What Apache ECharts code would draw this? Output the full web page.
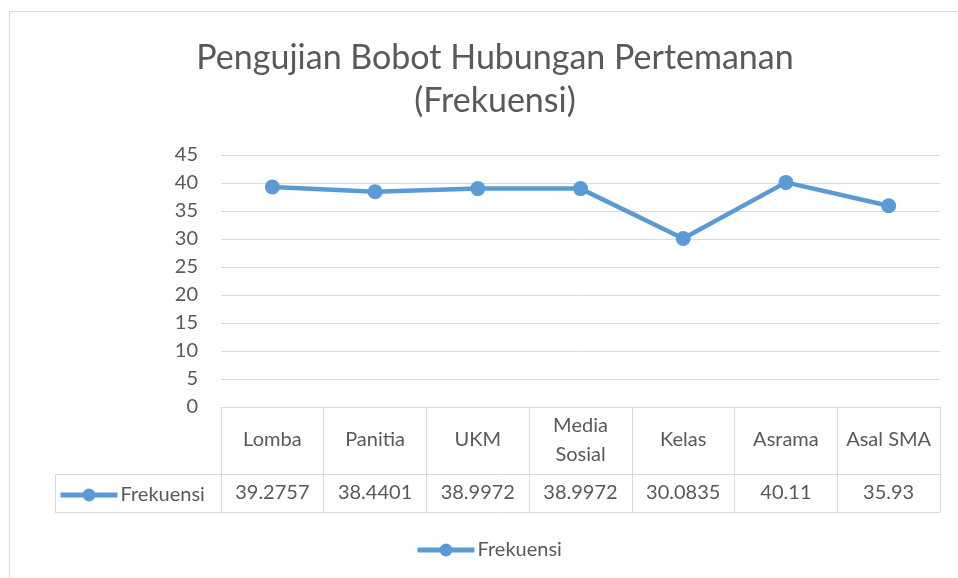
<!DOCTYPE html>
<html>
<head>
<meta charset="utf-8">
<script src="https://cdn.jsdelivr.net/npm/echarts@6/dist/echarts.min.js"></script>
<style>
html,body{margin:0;padding:0;background:#fff;}
#c{width:958px;height:578px;}
</style>
</head>
<body>
<div id="c"></div>
<script>
var categories = ['Lomba', 'Panitia', 'UKM', 'Media\nSosial', 'Kelas', 'Asrama', 'Asal SMA'];
var frekuensi = [39.2757, 38.4401, 38.9972, 38.9972, 30.0835, 40.11, 35.93];
var yTicks = [0, 5, 10, 15, 20, 25, 30, 35, 40, 45];
var seriesName = 'Frekuensi';
var titleText = 'Pengujian Bobot Hubungan Pertemanan\n(Frekuensi)';

var FONT = 'Lato, "Open Sans", sans-serif';
var TXT = '#595959';
var LINE = '#D9D9D9';
var BLUE = '#5B9BD5';
var FS = 20;

var G = {left: 221, right: 18, top: 155, bottom: 171};
var W = 958, H = 578;
var gBottom = H - G.bottom;      // 407
var headerH = 67, rowH = 38;
var tableLeft = 55;
var gRight = W - G.right;

var legendCommon = {
  data: [seriesName], itemWidth: 57, itemHeight: 16, itemGap: 0,
  lineStyle: {width: 5, color: BLUE},
  itemStyle: {color: BLUE},
  textStyle: {fontFamily: FONT, fontSize: FS, color: TXT, padding: [0, 0, 0, -2]}
};

var chart = echarts.init(document.getElementById('c'), null, {renderer: 'canvas'});
var option = {
  animation: false,
  backgroundColor: '#fff',
  title: {
    text: titleText,
    left: 490, top: 32, textAlign: 'center',
    textStyle: {fontFamily: FONT, fontWeight: 400, fontSize: 34, lineHeight: 43, color: TXT}
  },
  legend: [
    Object.assign({left: 410, top: 535}, legendCommon),
    Object.assign({left: 53, top: 480}, legendCommon)
  ],
  grid: {left: G.left, right: G.right, top: G.top, bottom: G.bottom, containLabel: false},
  xAxis: [
    {
      type: 'category', data: categories, boundaryGap: true, position: 'bottom',
      axisLine: {show: true, lineStyle: {color: LINE, width: 1}},
      axisTick: {show: true, length: headerH + rowH, lineStyle: {color: LINE, width: 1}},
      axisLabel: {interval: 0, margin: 33, verticalAlign: 'middle', fontFamily: FONT, fontSize: FS, lineHeight: 29, color: TXT}
    },
    {
      type: 'category', data: frekuensi.map(function(v){return String(v);}), boundaryGap: true, position: 'bottom', offset: 0,
      axisLine: {show: false}, axisTick: {show: false},
      axisLabel: {interval: 0, margin: headerH + rowH / 2, verticalAlign: 'middle', fontFamily: FONT, fontSize: FS, color: TXT}
    }
  ],
  yAxis: {
    type: 'value', min: yTicks[0], max: yTicks[yTicks.length - 1], interval: yTicks[1] - yTicks[0],
    axisLine: {show: false}, axisTick: {show: false},
    splitLine: {lineStyle: {color: LINE, width: 1}},
    axisLabel: {margin: 23, fontFamily: FONT, fontSize: FS, color: TXT}
  },
  series: [{
    name: seriesName, type: 'line', data: frekuensi, xAxisIndex: 0,
    symbol: 'circle', symbolSize: 15, showSymbol: true,
    lineStyle: {color: BLUE, width: 4.5},
    itemStyle: {color: BLUE}
  }],
  graphic: [
    {type: 'rect', shape: {x: 9.5, y: 11.5, width: 1000, height: 700}, style: {fill: 'none', stroke: LINE, lineWidth: 1}, silent: true, z: -1},
    {type: 'line', shape: {x1: tableLeft, y1: gBottom + headerH + 0.5, x2: gRight, y2: gBottom + headerH + 0.5}, style: {stroke: LINE, lineWidth: 1}},
    {type: 'line', shape: {x1: tableLeft, y1: gBottom + headerH + rowH + 0.5, x2: gRight, y2: gBottom + headerH + rowH + 0.5}, style: {stroke: LINE, lineWidth: 1}},
    {type: 'line', shape: {x1: tableLeft + 0.5, y1: gBottom + headerH, x2: tableLeft + 0.5, y2: gBottom + headerH + rowH}, style: {stroke: LINE, lineWidth: 1}}
  ]
};
chart.setOption(option);
</script>
</body>
</html>
